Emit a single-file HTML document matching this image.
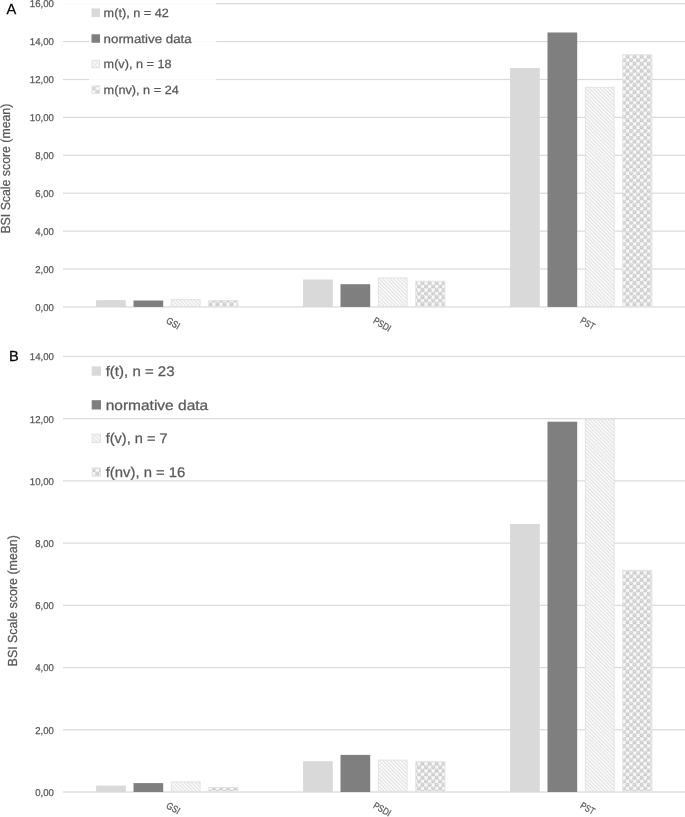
<!DOCTYPE html>
<html><head><meta charset="utf-8"><style>
html,body{margin:0;padding:0;background:#fff;width:685px;height:817px;overflow:hidden}
svg{display:block;filter:grayscale(1)}
text{font-family:"Liberation Sans",sans-serif;stroke-width:0.25px;text-rendering:geometricPrecision}
</style></head><body>
<svg width="685" height="817" viewBox="0 0 685 817">
<defs>
<pattern id="hatch" patternUnits="userSpaceOnUse" width="2.6" height="2.6" patternTransform="rotate(-45)">
<rect width="2.6" height="2.6" fill="#fff"/><rect x="0" y="0" width="1.3" height="2.6" fill="#e2e2e2"/>
</pattern>
<radialGradient id="blob" cx="0.5" cy="0.4" r="0.6">
<stop offset="0" stop-color="#e4e4e4"/><stop offset="0.55" stop-color="#cdcdcd"/><stop offset="1" stop-color="#c2c2c2"/>
</radialGradient>
<pattern id="check" patternUnits="userSpaceOnUse" width="7.07" height="7.07" y="1.8">
<rect width="7.07" height="7.07" fill="#fcfcfc"/>
<circle cx="1.77" cy="1.77" r="2.15" fill="url(#blob)"/><circle cx="5.3" cy="5.3" r="2.15" fill="url(#blob)"/>
<circle cx="5.3" cy="-1.77" r="2.15" fill="url(#blob)"/><circle cx="-1.77" cy="5.3" r="2.15" fill="url(#blob)"/><circle cx="8.84" cy="5.3" r="2.15" fill="url(#blob)"/><circle cx="5.3" cy="8.84" r="2.15" fill="url(#blob)"/>
</pattern>
</defs>
<rect width="685" height="817" fill="#fff"/>

<rect x="63.0" y="306.35" width="622.0" height="1.2" fill="#dadada"/>
<text x="35.30" y="310.85" font-size="9.9" fill="#595959" stroke="#595959" textLength="18.6" lengthAdjust="spacingAndGlyphs">0,00</text>
<rect x="63.0" y="268.44" width="622.0" height="1.2" fill="#dadada"/>
<text x="35.30" y="272.94" font-size="9.9" fill="#595959" stroke="#595959" textLength="18.6" lengthAdjust="spacingAndGlyphs">2,00</text>
<rect x="63.0" y="230.53" width="622.0" height="1.2" fill="#dadada"/>
<text x="35.30" y="235.03" font-size="9.9" fill="#595959" stroke="#595959" textLength="18.6" lengthAdjust="spacingAndGlyphs">4,00</text>
<rect x="63.0" y="192.62" width="622.0" height="1.2" fill="#dadada"/>
<text x="35.30" y="197.12" font-size="9.9" fill="#595959" stroke="#595959" textLength="18.6" lengthAdjust="spacingAndGlyphs">6,00</text>
<rect x="63.0" y="154.71" width="622.0" height="1.2" fill="#dadada"/>
<text x="35.30" y="159.21" font-size="9.9" fill="#595959" stroke="#595959" textLength="18.6" lengthAdjust="spacingAndGlyphs">8,00</text>
<rect x="63.0" y="116.80" width="622.0" height="1.2" fill="#dadada"/>
<text x="29.80" y="121.30" font-size="9.9" fill="#595959" stroke="#595959" textLength="24.1" lengthAdjust="spacingAndGlyphs">10,00</text>
<rect x="63.0" y="78.89" width="622.0" height="1.2" fill="#dadada"/>
<text x="29.80" y="83.39" font-size="9.9" fill="#595959" stroke="#595959" textLength="24.1" lengthAdjust="spacingAndGlyphs">12,00</text>
<rect x="63.0" y="40.98" width="622.0" height="1.2" fill="#dadada"/>
<text x="29.80" y="45.48" font-size="9.9" fill="#595959" stroke="#595959" textLength="24.1" lengthAdjust="spacingAndGlyphs">14,00</text>
<rect x="63.0" y="3.07" width="622.0" height="1.2" fill="#dadada"/>
<text x="29.80" y="6.77" font-size="9.9" fill="#595959" stroke="#595959" textLength="24.1" lengthAdjust="spacingAndGlyphs">16,00</text>
<rect x="89" y="1.5" width="127.19999999999999" height="103.5" fill="#fff" fill-opacity="0.88"/>
<rect x="60" y="1.5" width="29" height="4" fill="#fff" fill-opacity="0.88"/>
<rect x="96.10" y="300.13" width="29.7" height="6.82" fill="#d9d9d9"/>
<rect x="303.10" y="279.50" width="29.7" height="27.45" fill="#d9d9d9"/>
<rect x="510.10" y="68.12" width="29.7" height="238.83" fill="#d9d9d9"/>
<rect x="133.50" y="300.51" width="29.7" height="6.44" fill="#7f7f7f"/>
<rect x="340.50" y="284.20" width="29.7" height="22.75" fill="#7f7f7f"/>
<rect x="547.50" y="32.48" width="29.7" height="274.47" fill="#7f7f7f"/>
<rect x="171.40" y="299.68" width="28.7" height="6.77" fill="url(#hatch)" stroke="#e3e3e3" stroke-width="1"/>
<rect x="378.40" y="277.90" width="28.7" height="28.55" fill="url(#hatch)" stroke="#e3e3e3" stroke-width="1"/>
<rect x="585.40" y="87.38" width="28.7" height="219.07" fill="url(#hatch)" stroke="#e3e3e3" stroke-width="1"/>
<rect x="208.80" y="300.63" width="29.10" height="5.82" fill="url(#check)" stroke="#e3e3e3" stroke-width="1"/>
<rect x="415.80" y="281.20" width="29.10" height="25.25" fill="url(#check)" stroke="#e3e3e3" stroke-width="1"/>
<rect x="622.80" y="54.78" width="29.10" height="251.67" fill="url(#check)" stroke="#e3e3e3" stroke-width="1"/>
<text x="0" y="0" font-size="9.6" fill="#595959" stroke="#595959" textLength="14.0" lengthAdjust="spacingAndGlyphs" transform="translate(165.50,322.60) rotate(30)">GSI</text>
<text x="0" y="0" font-size="9.6" fill="#595959" stroke="#595959" textLength="18.6" lengthAdjust="spacingAndGlyphs" transform="translate(372.50,322.60) rotate(30)">PSDI</text>
<text x="0" y="0" font-size="9.6" fill="#595959" stroke="#595959" textLength="15.0" lengthAdjust="spacingAndGlyphs" transform="translate(579.50,322.60) rotate(30)">PST</text>
<text x="6.6" y="13.9" font-size="14.6" fill="#000" stroke="#000" stroke-width="0.3">A</text>
<text x="0" y="0" font-size="13.1" fill="#595959" stroke="#595959" textLength="129.9" lengthAdjust="spacingAndGlyphs" transform="translate(9.90,233.60) rotate(-90)">BSI Scale score (mean)</text>
<rect x="91.5" y="8.47" width="8.5" height="8.5" fill="#d9d9d9"/>
<text x="103.6" y="16.80" font-size="12" fill="#595959" stroke="#595959" textLength="65.2" lengthAdjust="spacingAndGlyphs">m(t), n = 42</text>
<rect x="91.5" y="34.27" width="8.5" height="8.5" fill="#7f7f7f"/>
<text x="103.6" y="42.60" font-size="12" fill="#595959" stroke="#595959" textLength="88.1" lengthAdjust="spacingAndGlyphs">normative data</text>
<rect x="92.0" y="60.27" width="7.5" height="7.5" fill="url(#hatch)" stroke="#e3e3e3" stroke-width="1"/>
<text x="103.6" y="68.10" font-size="12" fill="#595959" stroke="#595959" textLength="67.9" lengthAdjust="spacingAndGlyphs">m(v), n = 18</text>
<rect x="92.0" y="85.87" width="7.5" height="7.5" fill="url(#check)" stroke="#e3e3e3" stroke-width="1"/>
<text x="103.6" y="93.70" font-size="12" fill="#595959" stroke="#595959" textLength="75.2" lengthAdjust="spacingAndGlyphs">m(nv), n = 24</text>
<rect x="63.0" y="791.40" width="622.0" height="1.2" fill="#dadada"/>
<text x="35.30" y="795.90" font-size="9.9" fill="#595959" stroke="#595959" textLength="18.6" lengthAdjust="spacingAndGlyphs">0,00</text>
<rect x="63.0" y="729.18" width="622.0" height="1.2" fill="#dadada"/>
<text x="35.30" y="733.68" font-size="9.9" fill="#595959" stroke="#595959" textLength="18.6" lengthAdjust="spacingAndGlyphs">2,00</text>
<rect x="63.0" y="666.96" width="622.0" height="1.2" fill="#dadada"/>
<text x="35.30" y="671.46" font-size="9.9" fill="#595959" stroke="#595959" textLength="18.6" lengthAdjust="spacingAndGlyphs">4,00</text>
<rect x="63.0" y="604.74" width="622.0" height="1.2" fill="#dadada"/>
<text x="35.30" y="609.24" font-size="9.9" fill="#595959" stroke="#595959" textLength="18.6" lengthAdjust="spacingAndGlyphs">6,00</text>
<rect x="63.0" y="542.52" width="622.0" height="1.2" fill="#dadada"/>
<text x="35.30" y="547.02" font-size="9.9" fill="#595959" stroke="#595959" textLength="18.6" lengthAdjust="spacingAndGlyphs">8,00</text>
<rect x="63.0" y="480.30" width="622.0" height="1.2" fill="#dadada"/>
<text x="29.80" y="484.80" font-size="9.9" fill="#595959" stroke="#595959" textLength="24.1" lengthAdjust="spacingAndGlyphs">10,00</text>
<rect x="63.0" y="418.08" width="622.0" height="1.2" fill="#dadada"/>
<text x="29.80" y="422.58" font-size="9.9" fill="#595959" stroke="#595959" textLength="24.1" lengthAdjust="spacingAndGlyphs">12,00</text>
<rect x="63.0" y="355.86" width="622.0" height="1.2" fill="#dadada"/>
<text x="29.80" y="360.36" font-size="9.9" fill="#595959" stroke="#595959" textLength="24.1" lengthAdjust="spacingAndGlyphs">14,00</text>
<rect x="96.10" y="785.59" width="29.7" height="6.41" fill="#d9d9d9"/>
<rect x="303.10" y="761.20" width="29.7" height="30.80" fill="#d9d9d9"/>
<rect x="510.10" y="523.99" width="29.7" height="268.01" fill="#d9d9d9"/>
<rect x="133.50" y="783.10" width="29.7" height="8.90" fill="#7f7f7f"/>
<rect x="340.50" y="754.89" width="29.7" height="37.11" fill="#7f7f7f"/>
<rect x="547.50" y="421.70" width="29.7" height="370.30" fill="#7f7f7f"/>
<rect x="171.40" y="781.89" width="28.7" height="9.61" fill="url(#hatch)" stroke="#e3e3e3" stroke-width="1"/>
<rect x="378.40" y="760.11" width="28.7" height="31.39" fill="url(#hatch)" stroke="#e3e3e3" stroke-width="1"/>
<rect x="585.40" y="419.18" width="28.7" height="372.32" fill="url(#hatch)" stroke="#e3e3e3" stroke-width="1"/>
<rect x="208.80" y="787.49" width="29.10" height="4.01" fill="url(#check)" stroke="#e3e3e3" stroke-width="1"/>
<rect x="415.80" y="761.70" width="29.10" height="29.80" fill="url(#check)" stroke="#e3e3e3" stroke-width="1"/>
<rect x="622.80" y="570.31" width="29.10" height="221.19" fill="url(#check)" stroke="#e3e3e3" stroke-width="1"/>
<text x="0" y="0" font-size="9.6" fill="#595959" stroke="#595959" textLength="14.0" lengthAdjust="spacingAndGlyphs" transform="translate(165.50,807.40) rotate(30)">GSI</text>
<text x="0" y="0" font-size="9.6" fill="#595959" stroke="#595959" textLength="18.6" lengthAdjust="spacingAndGlyphs" transform="translate(372.50,807.40) rotate(30)">PSDI</text>
<text x="0" y="0" font-size="9.6" fill="#595959" stroke="#595959" textLength="15.0" lengthAdjust="spacingAndGlyphs" transform="translate(579.50,807.40) rotate(30)">PST</text>
<text x="8.9" y="360.8" font-size="14.6" fill="#000" stroke="#000" stroke-width="0.3">B</text>
<text x="0" y="0" font-size="13.1" fill="#595959" stroke="#595959" textLength="131.2" lengthAdjust="spacingAndGlyphs" transform="translate(17.10,666.40) rotate(-90)">BSI Scale score (mean)</text>
<rect x="91.7" y="366.39" width="9.3" height="9.3" fill="#d9d9d9"/>
<text x="105.7" y="375.80" font-size="14" fill="#595959" stroke="#595959" textLength="68.9" lengthAdjust="spacingAndGlyphs">f(t), n = 23</text>
<rect x="91.7" y="400.19" width="9.3" height="9.3" fill="#7f7f7f"/>
<text x="105.7" y="409.60" font-size="14" fill="#595959" stroke="#595959" textLength="102.5" lengthAdjust="spacingAndGlyphs">normative data</text>
<rect x="92.2" y="434.19" width="8.3" height="8.3" fill="url(#hatch)" stroke="#e3e3e3" stroke-width="1"/>
<text x="105.7" y="443.10" font-size="14" fill="#595959" stroke="#595959" textLength="61.9" lengthAdjust="spacingAndGlyphs">f(v), n = 7</text>
<rect x="92.2" y="467.89" width="8.3" height="8.3" fill="url(#check)" stroke="#e3e3e3" stroke-width="1"/>
<text x="105.7" y="476.80" font-size="14" fill="#595959" stroke="#595959" textLength="79.7" lengthAdjust="spacingAndGlyphs">f(nv), n = 16</text>
</svg>
</body></html>
